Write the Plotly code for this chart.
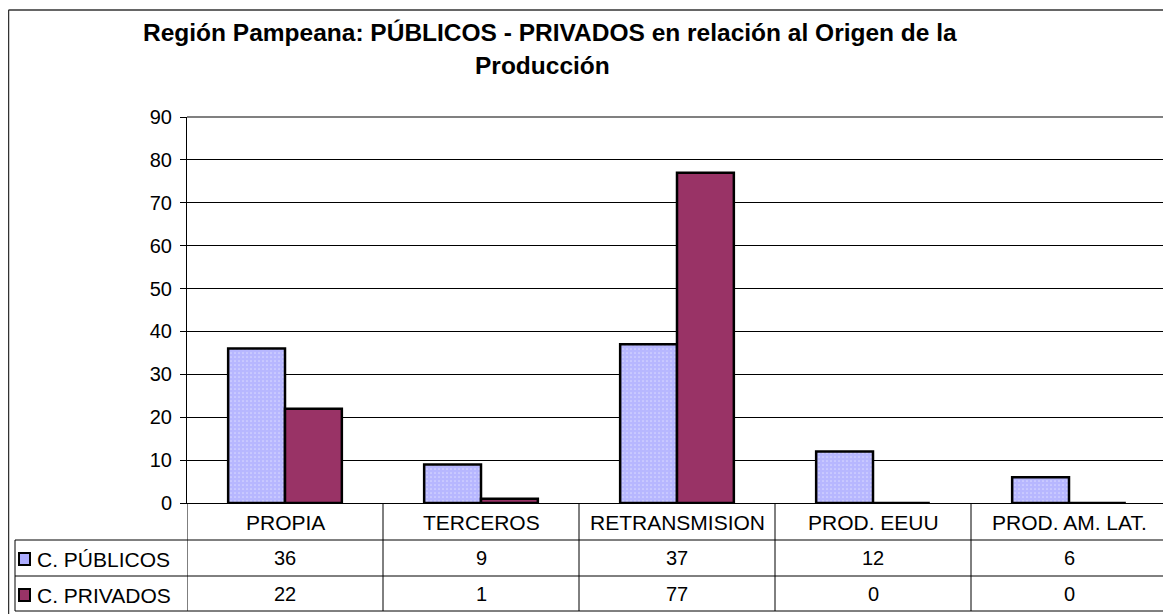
import plotly.graph_objects as go

categories = ["PROPIA", "TERCEROS", "RETRANSMISION", "PROD. EEUU", "PROD. AM. LAT."]
publicos = [36, 9, 37, 12, 6]
privados = [22, 1, 77, 0, 0]
series_names = ["C. PÚBLICOS", "C. PRIVADOS"]
title_lines = ["Región Pampeana: PÚBLICOS - PRIVADOS en relación al Origen de la",
               "Producción"]

W, H = 1171, 614
OFF = 8  # page body margin, screen px -> figure px
L, R, T, B = 187 - OFF, 1167 - OFF, 117 - OFF, 503 - OFF
FONT = "Liberation Sans, Arial, sans-serif"


def px(x):
    # screen x -> paper
    return (x - OFF - L) / (R - L)


def py(y):
    # screen y -> paper
    return (B - (y - OFF)) / (B - T)


fig = go.Figure()
fig.add_trace(go.Bar(
    x=categories, y=publicos, name=series_names[0],
    marker=dict(color="white", line=dict(color="black", width=2.5),
                pattern=dict(shape=".", fgcolor="#7070ff", bgcolor="white",
                             size=4, solidity=0.85, fillmode="overlay")),
))
fig.add_trace(go.Bar(
    x=categories, y=privados, name=series_names[1],
    marker=dict(color="#993366", line=dict(color="black", width=2.5)),
))

shapes = []
line_k = dict(color="black", width=1)
gray_k = dict(color="#808080", width=2)

# outer chart border
shapes.append(dict(type="line", xref="paper", yref="paper", x0=px(8.5), x1=px(W + 20),
                   y0=py(10), y1=py(10), line=dict(color="#333333", width=1.5)))
shapes.append(dict(type="line", xref="paper", yref="paper", x0=px(8.5), x1=px(8.5),
                   y0=py(10), y1=py(H + 20), line=dict(color="#333333", width=1.5)))
# plot area border (top / right)
shapes.append(dict(type="line", xref="paper", yref="paper", x0=0, x1=1, y0=1, y1=1, line=gray_k))
shapes.append(dict(type="line", xref="paper", yref="paper", x0=1, x1=1, y0=1, y1=py(611), line=gray_k))

# data table
n = len(categories)
for i in range(n):
    shapes.append(dict(type="line", xref="x", yref="paper", x0=i - 0.5, x1=i - 0.5,
                       y0=0, y1=py(611), line=line_k))
for yy in (540, 576, 611):
    shapes.append(dict(type="line", xref="paper", yref="paper", x0=px(15), x1=1,
                       y0=py(yy), y1=py(yy), line=line_k))
shapes.append(dict(type="line", xref="paper", yref="paper", x0=px(15), x1=px(15),
                   y0=py(540), y1=py(611), line=line_k))
# legend keys
shapes.append(dict(type="rect", xref="paper", yref="paper", x0=px(19), x1=px(30),
                   y0=py(565), y1=py(553), fillcolor="#adadff",
                   line=dict(color="black", width=2)))
shapes.append(dict(type="rect", xref="paper", yref="paper", x0=px(19), x1=px(30),
                   y0=py(601), y1=py(589), fillcolor="#993366",
                   line=dict(color="black", width=2)))

annotations = []
tt_font = dict(size=24.5, color="black", family=FONT)
annotations.append(dict(text="<b>%s</b>" % title_lines[0], xref="paper", yref="paper",
                        x=px(550), y=py(33), xanchor="center", yanchor="middle",
                        showarrow=False, font=tt_font))
annotations.append(dict(text="<b>%s</b>" % title_lines[1], xref="paper", yref="paper",
                        x=px(542), y=py(66), xanchor="center", yanchor="middle",
                        showarrow=False, font=tt_font))
cat_font = dict(size=21, color="black", family=FONT)
num_font = dict(size=20, color="black", family=FONT)
for i, c in enumerate(categories):
    annotations.append(dict(text=c, xref="x", yref="paper", x=i, y=py(522),
                            xanchor="center", yanchor="middle", showarrow=False, font=cat_font))
    annotations.append(dict(text=str(publicos[i]), xref="x", yref="paper", x=i, y=py(558),
                            xanchor="center", yanchor="middle", showarrow=False, font=num_font))
    annotations.append(dict(text=str(privados[i]), xref="x", yref="paper", x=i, y=py(594),
                            xanchor="center", yanchor="middle", showarrow=False, font=num_font))
for j, name in enumerate(series_names):
    annotations.append(dict(text=name, xref="paper", yref="paper", x=px(35),
                            y=py(559 + 36 * j), xanchor="left", yanchor="middle",
                            showarrow=False, font=cat_font))

fig.update_layout(
    width=W, height=H,
    margin=dict(l=L, r=W - R, t=T, b=H - B),
    paper_bgcolor="white", plot_bgcolor="white",
    barmode="group", bargap=0.42, bargroupgap=0,
    showlegend=False,
    font=dict(family=FONT, color="black"),
    xaxis=dict(showticklabels=False, ticks="", showgrid=False, showline=True,
               linecolor="black", linewidth=1, range=[-0.5, n - 0.5]),
    yaxis=dict(range=[0, 90], dtick=10, showgrid=True, gridcolor="black", gridwidth=1,
               showline=True, linecolor="black", linewidth=1, ticks="outside",
               ticklen=6, tickcolor="black", tickfont=dict(size=20, family=FONT),
               ticklabelstandoff=4, zeroline=False),
    shapes=shapes,
    annotations=annotations,
)

fig.write_html("out.html")
